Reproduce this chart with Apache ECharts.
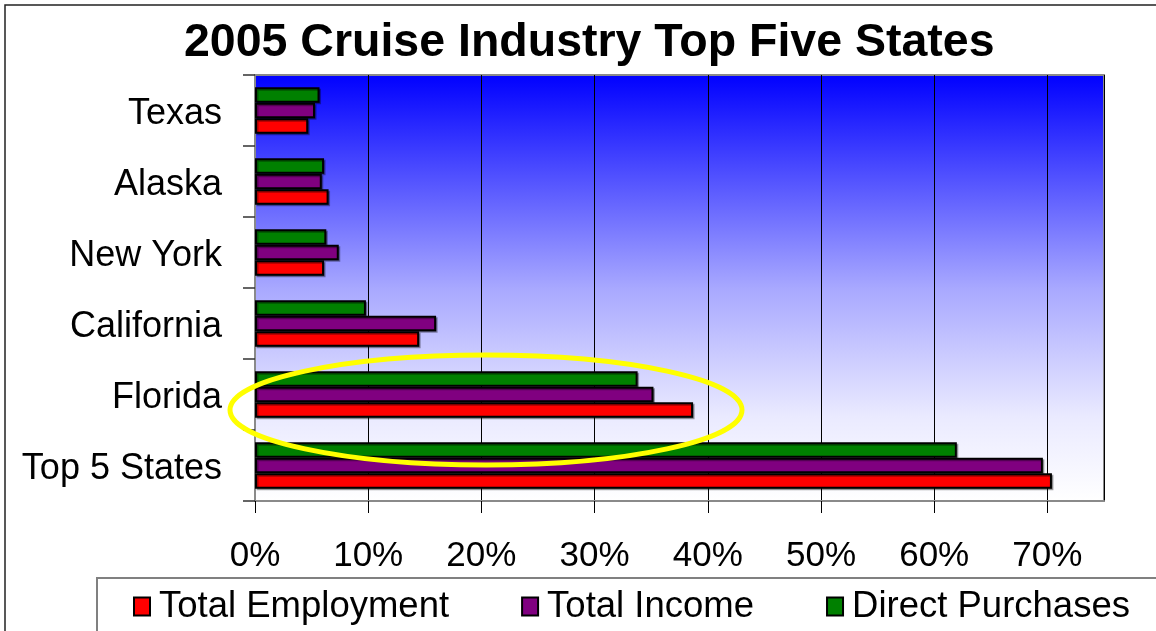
<!DOCTYPE html>
<html><head><meta charset="utf-8">
<script src="https://cdn.jsdelivr.net/npm/echarts@6/dist/echarts.min.js"></script>
<style>html,body{margin:0;padding:0;background:#fff}#c{width:1156px;height:631px}</style>
</head><body><div id="c"></div>
<script>
const categories = ['Top 5 States', 'Florida', 'California', 'New York', 'Alaska', 'Texas'];
const totalEmployment = [70.4, 38.7, 14.5, 6.1, 6.5, 4.7];
const totalIncome = [69.6, 35.2, 16.0, 7.4, 5.9, 5.3];
const directPurchases = [62.0, 33.8, 9.8, 6.3, 6.1, 5.7];
const seriesNames = ['Total Employment', 'Total Income', 'Direct Purchases'];
const xTicks = [0, 10, 20, 30, 40, 50, 60, 70];

const FONT = 'Liberation Sans, Arial, sans-serif';
const chart = echarts.init(document.getElementById('c'));
function bar(name, data, color) {
  return {
    name, type: 'bar', data, barWidth: 15.5, barGap: '0%',
    itemStyle: { color, borderColor: '#000', borderWidth: 2,
      shadowColor: 'rgba(0,0,0,0.35)', shadowOffsetX: 1.5, shadowOffsetY: 1.5, shadowBlur: 0 }
  };
}
chart.setOption({
  animation: false,
  backgroundColor: '#fff',
  title: {
    text: '2005 Cruise Industry Top Five States', left: 184, top: 20, padding: 0,
    textStyle: { fontFamily: FONT, fontWeight: 'bold', fontSize: 46.5, color: '#000' }
  },
  grid: {
    left: 255, top: 75, right: 52, bottom: 130, show: true,
    borderColor: '#8a8a8a', borderWidth: 2,
    backgroundColor: new echarts.graphic.LinearGradient(0, 0, 0, 1, [
      { offset: 0, color: '#0000FF' }, { offset: 0.5, color: '#A8A8FF' },
      { offset: 0.8, color: '#EAEAFF' }, { offset: 1, color: '#FFFFFF' }])
  },
  legend: {
    left: 128, top: 583, itemWidth: 16, itemHeight: 18, itemGap: 72,
    data: seriesNames, icon: 'rect',
    textStyle: { fontFamily: FONT, fontSize: 36.5, color: '#000', padding: [0, 0, 0, 4] }
  },
  xAxis: {
    type: 'value', min: 0, max: 75, interval: 10,
    axisLine: { show: true, lineStyle: { color: '#8a8a8a', width: 2 } },
    axisTick: { show: true, length: 12, lineStyle: { color: '#000', width: 1 } },
    axisLabel: { margin: 38, fontFamily: FONT, fontSize: 35, color: '#000', showMaxLabel: false,
      formatter: v => (xTicks.indexOf(v) >= 0 ? v + '%' : '') },
    splitLine: { show: true, lineStyle: { color: '#000', width: 1 } }
  },
  yAxis: {
    type: 'category', data: categories,
    axisLine: { show: true, lineStyle: { color: '#8a8a8a', width: 2 } },
    axisTick: { show: true, length: 12, lineStyle: { color: '#333', width: 1.5 } },
    axisLabel: { margin: 33, color: '#000', formatter: v => '{a|' + v + '}',
      rich: { a: { fontFamily: FONT, fontSize: 36, color: '#000', padding: [8, 0, 0, 0] } } }
  },
  series: [
    bar(seriesNames[2], directPurchases, '#008000'),
    bar(seriesNames[1], totalIncome, '#800080'),
    bar(seriesNames[0], totalEmployment, '#FF0000')
  ],
  graphic: [
    { type: 'rect', z: -10, silent: true, shape: { x: 5, y: 5, width: 1200, height: 700 },
      style: { fill: 'none', stroke: '#222', lineWidth: 1.5 } },
    { type: 'rect', z: -5, silent: true, shape: { x: 97, y: 578, width: 1100, height: 100 },
      style: { fill: '#fff', stroke: '#808080', lineWidth: 2 } },
    { type: 'ellipse', z: 100, silent: true, shape: { cx: 486, cy: 410, rx: 256, ry: 55 },
      style: { fill: 'none', stroke: '#FFFF00', lineWidth: 5 } }
  ]
});
</script></body></html>
